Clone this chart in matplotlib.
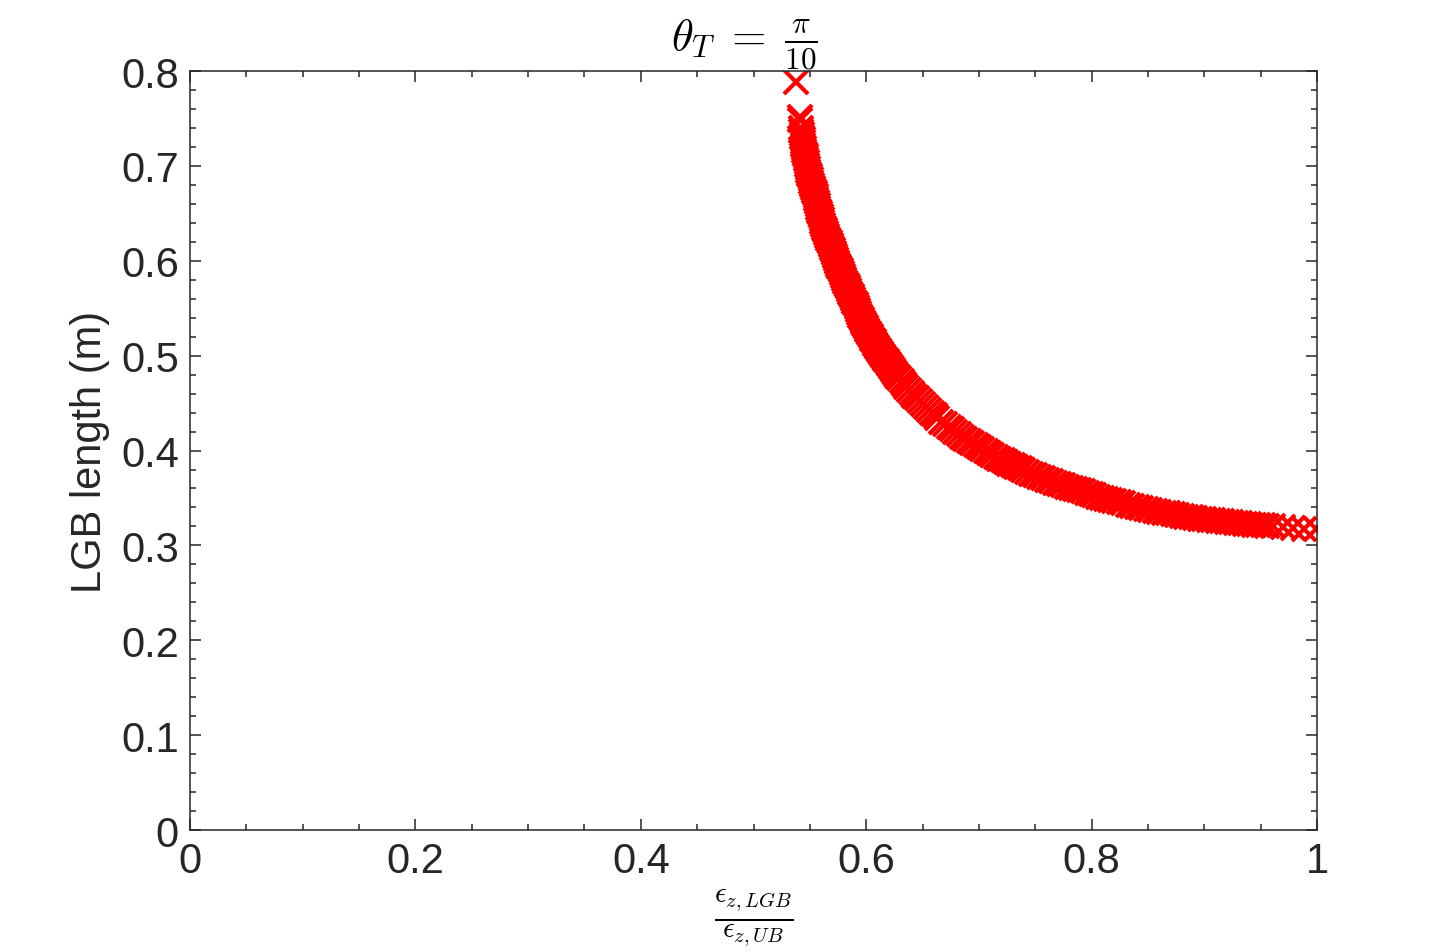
import matplotlib
matplotlib.use('Agg')
import matplotlib.pyplot as plt
from matplotlib.ticker import MultipleLocator, FuncFormatter

plt.rcParams['font.family'] = ['Liberation Sans', 'DejaVu Sans']
plt.rcParams['mathtext.fontset'] = 'cm'

# steep branch: strain ratio eps_z,LGB / eps_z,UB and LGB length (m)
ratio_upper = [0.5377, 0.5410, 0.5414,
               0.5421, 0.5424, 0.5427, 0.5431, 0.5435, 0.5439, 0.5443, 0.5447,
               0.5451, 0.5456, 0.5461, 0.5466, 0.5471, 0.5476, 0.5481, 0.5486,
               0.5492, 0.5499, 0.5506, 0.5513, 0.5521, 0.5528, 0.5535, 0.5543,
               0.5550, 0.5556, 0.5562, 0.5569, 0.5576, 0.5583, 0.5590, 0.5597,
               0.5604, 0.5611, 0.5619, 0.5628, 0.5637, 0.5646, 0.5655, 0.5664,
               0.5674, 0.5683, 0.5692, 0.5702, 0.5712, 0.5722, 0.5732, 0.5742,
               0.5752, 0.5762, 0.5772, 0.5782, 0.5792, 0.5803, 0.5815, 0.5826,
               0.5837, 0.5848, 0.5860, 0.5871, 0.5883, 0.5894, 0.5905, 0.5916,
               0.5927, 0.5937, 0.5948, 0.5959, 0.5970, 0.5983, 0.5996, 0.6010,
               0.6024, 0.6038, 0.6052, 0.6066, 0.6080, 0.6095, 0.6111, 0.6128,
               0.6146, 0.6164, 0.6182, 0.6199, 0.6217, 0.6236, 0.6255, 0.6275,
               0.6295, 0.6315, 0.6335, 0.6356, 0.6377, 0.6402, 0.6427, 0.6452,
               0.6477, 0.6503, 0.6530, 0.6557, 0.6585, 0.6607, 0.6630]
len_upper = [0.788, 0.752, 0.748,
             0.740, 0.737, 0.734, 0.731, 0.728, 0.725, 0.722, 0.719,
             0.716, 0.713, 0.710, 0.707, 0.704, 0.701, 0.698, 0.695,
             0.692, 0.689, 0.686, 0.683, 0.680, 0.677, 0.674, 0.671,
             0.668, 0.665, 0.662, 0.659, 0.656, 0.653, 0.650, 0.647,
             0.644, 0.641, 0.638, 0.635, 0.632, 0.629, 0.626, 0.623,
             0.620, 0.617, 0.614, 0.611, 0.608, 0.605, 0.602, 0.599,
             0.596, 0.593, 0.590, 0.587, 0.584, 0.581, 0.578, 0.575,
             0.572, 0.569, 0.566, 0.563, 0.560, 0.557, 0.554, 0.551,
             0.548, 0.545, 0.542, 0.539, 0.536, 0.533, 0.530, 0.527,
             0.524, 0.521, 0.518, 0.515, 0.512, 0.509, 0.506, 0.503,
             0.500, 0.497, 0.494, 0.491, 0.488, 0.485, 0.482, 0.479,
             0.476, 0.473, 0.470, 0.467, 0.464, 0.461, 0.458, 0.455,
             0.452, 0.449, 0.446, 0.443, 0.440, 0.437, 0.434]

# flat branch
ratio_lower = [0.6665, 0.670, 0.673, 0.676, 0.679, 0.682, 0.685, 0.688,
               0.691, 0.694, 0.697, 0.700, 0.703, 0.706, 0.709, 0.712,
               0.715, 0.718, 0.721, 0.724, 0.727, 0.730, 0.733, 0.736,
               0.7395, 0.743, 0.7465, 0.750, 0.7535, 0.757, 0.7605, 0.764,
               0.7675, 0.771, 0.7745, 0.778, 0.7815, 0.785, 0.7885, 0.792,
               0.7955, 0.799, 0.8025, 0.806, 0.8095, 0.813, 0.8165, 0.820,
               0.824, 0.828, 0.832, 0.836, 0.840, 0.844, 0.848, 0.852,
               0.856, 0.860, 0.864, 0.868, 0.872, 0.876, 0.880, 0.884,
               0.888, 0.892, 0.896, 0.900, 0.904, 0.908, 0.912, 0.916,
               0.920, 0.924, 0.928, 0.932, 0.936, 0.940, 0.944, 0.948,
               0.952, 0.956, 0.961, 0.970, 0.979, 0.988, 0.999]
len_lower = [0.4306, 0.4275, 0.4248, 0.4222, 0.4196, 0.4171, 0.4145, 0.4120,
             0.4098, 0.4076, 0.4054, 0.4033, 0.4012, 0.3992, 0.3972, 0.3952,
             0.3934, 0.3916, 0.3898, 0.3880, 0.3863, 0.3846, 0.3829, 0.3812,
             0.3793, 0.3775, 0.3757, 0.3740, 0.3724, 0.3708, 0.3692, 0.3677,
             0.3662, 0.3648, 0.3634, 0.3620, 0.3607, 0.3594, 0.3581, 0.3569,
             0.3555, 0.3542, 0.3528, 0.3514, 0.3501, 0.3488, 0.3477, 0.3467,
             0.3454, 0.3442, 0.3430, 0.3418, 0.3406, 0.3395, 0.3384, 0.3374,
             0.3364, 0.3355, 0.3346, 0.3337, 0.3328, 0.3320, 0.3312, 0.3304,
             0.3297, 0.3290, 0.3283, 0.3277, 0.3270, 0.3264, 0.3258, 0.3253,
             0.3248, 0.3243, 0.3238, 0.3233, 0.3228, 0.3224, 0.3219, 0.3215,
             0.3211, 0.3207, 0.3200, 0.3192, 0.3185, 0.3178, 0.3172]

ratio = ratio_upper + ratio_lower
lgb_len = len_upper + len_lower

fig = plt.figure(figsize=(14.55, 9.53), dpi=100)
ax = fig.add_axes([0.1306, 0.128, 0.7746, 0.7964])

ax.plot(ratio, lgb_len, 'x', color='red', markersize=17, markeredgewidth=3)

ax.set_xlim(0, 1)
ax.set_ylim(0, 0.8)
ax.xaxis.set_major_locator(MultipleLocator(0.2))
ax.xaxis.set_minor_locator(MultipleLocator(0.05))
ax.yaxis.set_major_locator(MultipleLocator(0.1))
ax.yaxis.set_minor_locator(MultipleLocator(0.02))
fmt = FuncFormatter(lambda v, p: '%g' % round(v, 4))
ax.xaxis.set_major_formatter(fmt)
ax.yaxis.set_major_formatter(fmt)

ax.tick_params(which='both', direction='in', top=True, right=True,
               colors='#262626', width=1.1)
ax.tick_params(which='major', length=8, labelsize=30, pad=8)
ax.tick_params(which='minor', length=4)
for s in ax.spines.values():
    s.set_color('#262626')
    s.set_linewidth(1.1)

ax.set_ylabel('LGB length (m)', fontsize=30, color='#262626', labelpad=8)
ax.set_xlabel(r'$\frac{\epsilon_{z,LGB}}{\epsilon_{z,UB}}$', fontsize=30, labelpad=4)
ax.set_title(r'$\theta_T \;=\; \frac{\pi}{10}$', fontsize=32, pad=4, x=0.492)

fig.savefig('out.png', dpi=100, facecolor='white')
